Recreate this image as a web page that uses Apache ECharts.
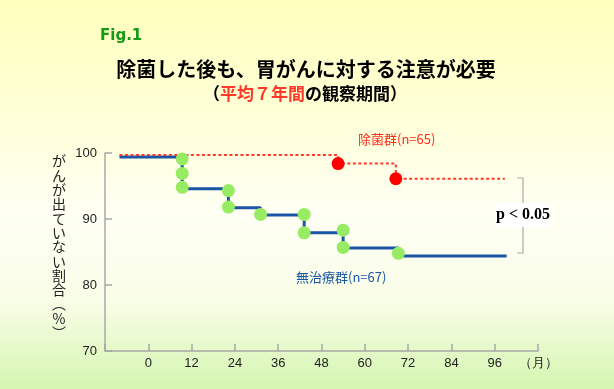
<!DOCTYPE html>
<html><head><meta charset="utf-8">
<script src="https://cdn.jsdelivr.net/npm/echarts@6/dist/echarts.min.js"></script>
<style>
html,body{margin:0;padding:0;}
#c{width:614px;height:389px;background:linear-gradient(to bottom,#ffffbd 0%,#ffffd8 30%,#fffff4 55%,#f8fde6 78%,#d4f6b0 100%);}
</style></head>
<body><div id="c"></div>
<script>
// ---- data ----
const xTicks = [-12, 0, 12, 24, 36, 48, 60, 72, 84, 96, 108];
const yTicks = [70, 80, 90, 100];
// 無治療群 step line (month, %)
const untreatedMonths = [-8, 9.4, 22.2, 31.1, 43.2, 54, 69.3, 99.3];
const untreatedValues = [99.4, 94.6, 91.7, 90.6, 87.9, 85.6, 84.4, 84.4];
// 無治療群 events (green dots)
const untreatedEventMonths = [9.4, 9.4, 9.4, 22.2, 22.2, 31.1, 43.2, 43.2, 54, 54, 69.3];
const untreatedEventValues = [99.1, 96.9, 94.8, 94.3, 91.8, 90.7, 90.7, 87.9, 88.3, 85.7, 84.8];
// 除菌群 step line
const eradMonths = [-8, 52.6, 68.6, 98.8];
const eradValues = [99.7, 98.4, 96.1, 96.1];
// 除菌群 events (red dots)
const eradEventMonths = [52.6, 68.6];
const eradEventValues = [98.4, 96.1];

const zip = (a, b) => a.map((v, i) => [v, b[i]]);

const chart = echarts.init(document.getElementById('c'), null, {renderer: 'canvas'});
const axisCol = '#a8a8a8';
const labelFont = {fontSize: 13, color: '#222', fontFamily: 'Liberation Sans, Arial, sans-serif'};
const yName = 'がんが出ていない割合︵%︶'.split('').join('\n');

chart.setOption({
  backgroundColor: 'transparent',
  animation: false,
  grid: {left: 105, right: 76, top: 153, bottom: 38},
  xAxis: {
    type: 'value', min: xTicks[0], max: xTicks[xTicks.length - 1], interval: 12,
    axisLine: {onZero: false, lineStyle: {color: axisCol, width: 1.5}},
    axisTick: {inside: true, length: 7, lineStyle: {color: axisCol, width: 1.5}},
    splitLine: {show: false},
    axisLabel: Object.assign({margin: 6, showMinLabel: true,
      formatter: v => v === xTicks[0] ? '' : (v === xTicks[xTicks.length - 1] ? '（月）' : String(v))}, labelFont)
  },
  yAxis: {
    type: 'value', min: yTicks[0], max: yTicks[yTicks.length - 1], interval: 10,
    axisLine: {show: true, onZero: false, lineStyle: {color: axisCol, width: 1.5}},
    axisTick: {show: true, inside: true, length: 7, lineStyle: {color: axisCol, width: 1.5}},
    splitLine: {show: false},
    axisLabel: Object.assign({margin: 8}, labelFont)
  },
  series: [
    {type: 'line', step: 'end', data: zip(untreatedMonths, untreatedValues), symbol: 'none',
     lineStyle: {color: '#1b56a6', width: 3}, z: 2},
    {type: 'line', step: 'end', data: zip(eradMonths, eradValues), symbol: 'none',
     lineStyle: {color: '#ff3a2a', width: 2, type: [3, 2.5]}, z: 3},
    {type: 'scatter', data: zip(untreatedEventMonths, untreatedEventValues), symbol: 'circle', symbolSize: 13,
     itemStyle: {color: '#98ec64', opacity: 1}, z: 4},
    {type: 'scatter', data: zip(eradEventMonths, eradEventValues), symbol: 'circle', symbolSize: 13,
     itemStyle: {color: '#ff0000', opacity: 1}, z: 4}
  ],
  graphic: [
    {type: 'text', x: 100, y: 36, style: {text: 'Fig.1', fill: '#179a17', font: 'bold 15px "DejaVu Sans", Verdana, sans-serif', textAlign: 'left', textVerticalAlign: 'middle'}},
    {type: 'text', x: 306, y: 69, style: {text: '除菌した後も、胃がんに対する注意が必要', fill: '#000', font: 'bold 20px "Noto Sans CJK JP", sans-serif', textAlign: 'center', textVerticalAlign: 'middle'}},
    {type: 'text', x: 305, y: 94, style: {
      text: '{a|（}{b|平均７年間}{a|の観察期間）}',
      textAlign: 'center', textVerticalAlign: 'middle',
      rich: {
        a: {fill: '#000', color: '#000', fontSize: 17, fontWeight: 'bold', fontFamily: '"Noto Sans CJK JP", sans-serif'},
        b: {fill: '#ff3a2a', color: '#ff3a2a', fontSize: 17, fontWeight: 'bold', fontFamily: '"Noto Sans CJK JP", sans-serif'}
      }}},
    {type: 'text', x: 59, y: 154, style: {text: yName, fill: '#222', font: '14px "Noto Sans CJK JP", sans-serif', lineHeight: 14.3, textAlign: 'center', textVerticalAlign: 'top'}},
    {type: 'text', x: 358, y: 139, style: {text: '除菌群(n=65)', fill: '#ff2a1a', font: '13px "Noto Sans CJK JP", sans-serif', textAlign: 'left', textVerticalAlign: 'middle'}},
    {type: 'text', x: 296, y: 277, style: {text: '無治療群(n=67)', fill: '#1b56a6', font: '13px "Noto Sans CJK JP", sans-serif', textAlign: 'left', textVerticalAlign: 'middle'}},
    {type: 'polyline', shape: {points: [[517, 178], [523, 178], [523, 253], [517, 253]]}, style: {stroke: '#aaa', lineWidth: 1.2, fill: null}},
    {type: 'rect', shape: {x: 496, y: 203, width: 54, height: 24}, style: {fill: '#fff'}, z: 10},
    {type: 'text', x: 523, y: 215, z: 11, style: {text: 'p < 0.05', fill: '#000', font: 'bold 16px "Liberation Serif", "Times New Roman", serif', textAlign: 'center', textVerticalAlign: 'middle'}}
  ]
});
</script></body></html>
